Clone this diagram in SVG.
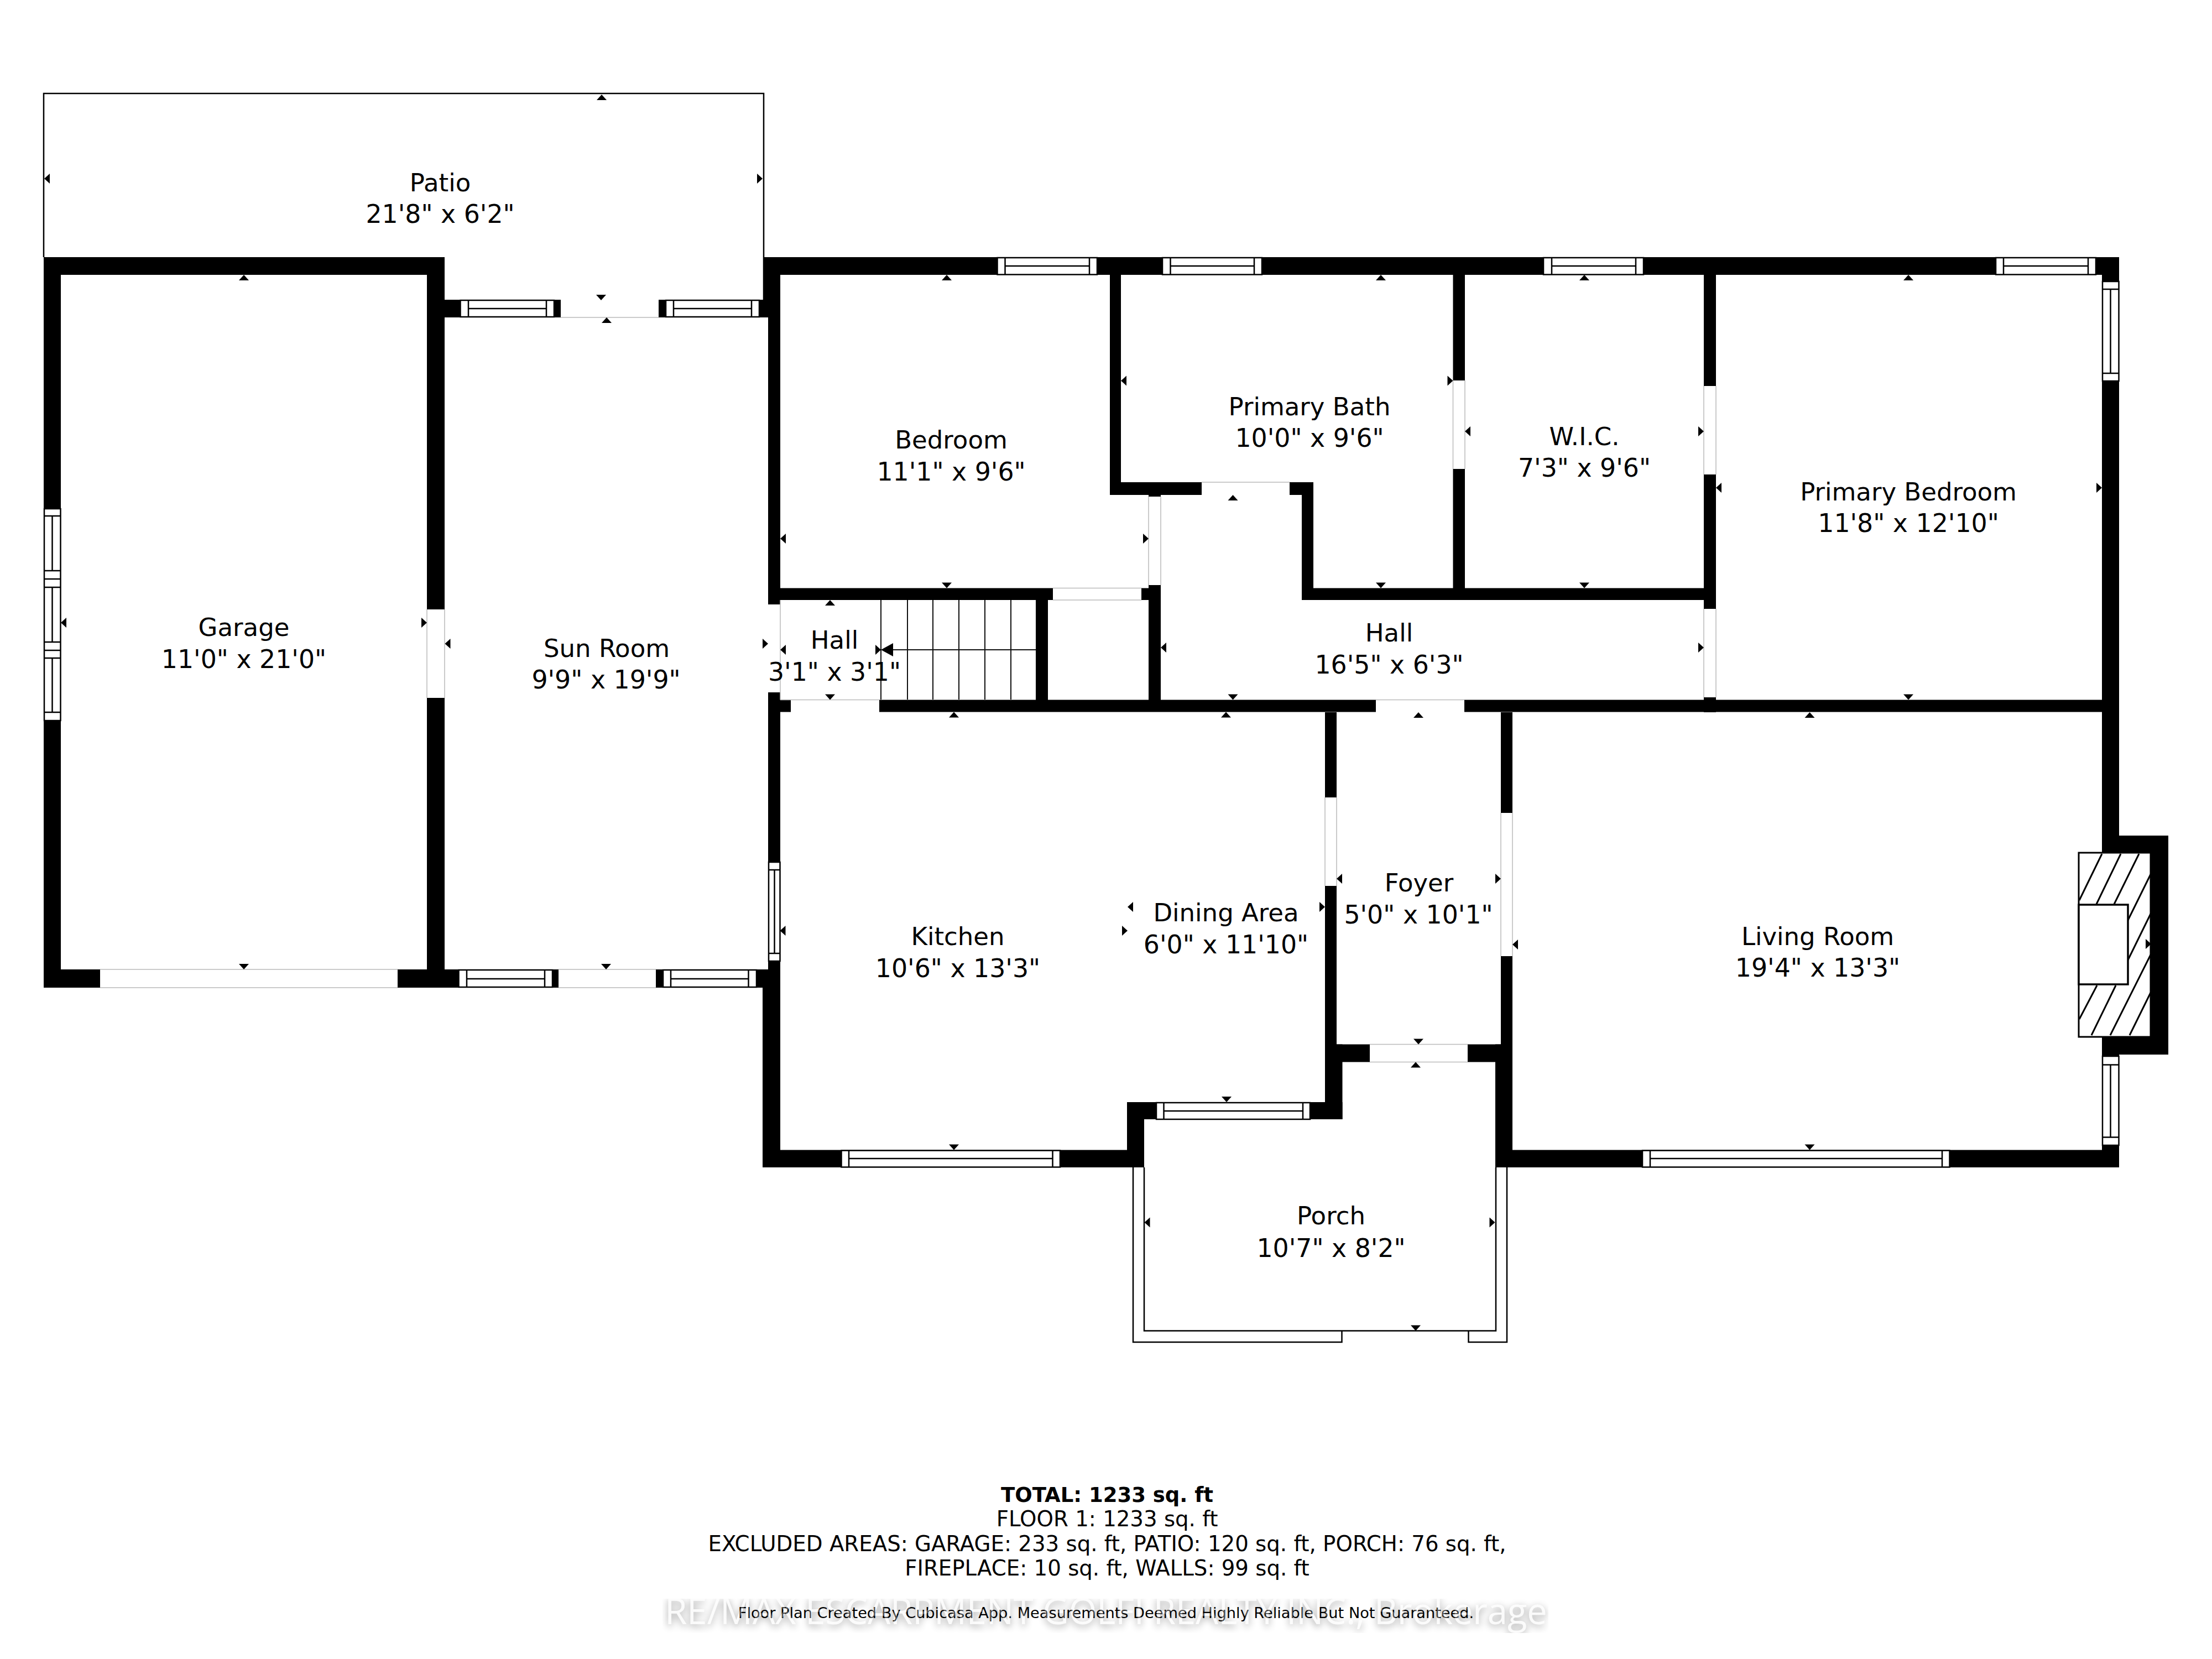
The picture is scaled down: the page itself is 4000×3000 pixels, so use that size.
<svg xmlns="http://www.w3.org/2000/svg" width="4000" height="3000" viewBox="0 0 4000 3000">
<style>
.w{fill:#000}
.d{fill:#fff}
.dl{fill:none;stroke:#bbb;stroke-width:1.5}
.win{fill:#fff;stroke:#000;stroke-width:2.5}
.l{fill:none;stroke:#000;stroke-width:2.5;stroke-linecap:butt}
.o{fill:none;stroke:#000;stroke-width:2.5}
.s{stroke:#111;stroke-width:2;fill:none}
.h{stroke:#000;stroke-width:3;fill:none}
text{font-family:"DejaVu Sans",Verdana,sans-serif;fill:#000;text-anchor:middle}
.r{font-size:45px}
.r2{font-size:45.8px}
.f{font-size:38.7px}
.b{font-size:37px;font-weight:700}
.c{font-size:27.2px}
.wm{font-family:"Open Sans","Noto Sans",sans-serif;font-size:65px}
</style>
<defs>
<polygon id="tu" points="0,0 9,10 -9,10" fill="#000"/>
<polygon id="td" points="0,0 9,-10 -9,-10" fill="#000"/>
<polygon id="tl" points="0,0 10,-9 10,9" fill="#000"/>
<polygon id="tr" points="0,0 -10,-9 -10,9" fill="#000"/>
<filter id="blur" x="-5%" y="-50%" width="110%" height="200%"><feGaussianBlur stdDeviation="7"/></filter>
<clipPath id="wmclip"><rect x="1198" y="2891" width="1602" height="62"/></clipPath>
</defs>

<rect width="4000" height="3000" fill="#fff"/>

<g id="outlines">
<path class="o" d="M79,465V169H1381V542"/>
<path class="o" d="M2069,2111V2406.5H2705V2111M2049,2111V2427H2426.5V2406.5M2725,2111V2427H2655.5V2406.5"/>
</g>

<g id="walls">
<rect class="w" x="79" y="465" width="725" height="32"/>
<rect class="w" x="79" y="465" width="31" height="455"/>
<rect class="w" x="79" y="1303" width="31" height="483"/>
<rect class="w" x="772" y="465" width="32" height="637"/>
<rect class="w" x="772" y="1262" width="32" height="524"/>
<rect class="w" x="79" y="1753" width="102" height="33"/>
<rect class="w" x="719" y="1753" width="291" height="33"/>
<rect class="w" x="1186" y="1753" width="203" height="33"/>
<rect class="w" x="804" y="542" width="210" height="32"/>
<rect class="w" x="1191" y="542" width="198" height="32"/>
<rect class="w" x="1381" y="465" width="30" height="109"/>
<rect class="w" x="1389" y="465" width="22" height="628"/>
<rect class="w" x="1389" y="1252" width="22" height="307"/>
<rect class="w" x="1389" y="1265.5" width="41" height="22"/>
<rect class="w" x="1389" y="1738" width="22" height="373"/>
<rect class="w" x="1379" y="1753" width="32" height="358"/>
<rect class="w" x="1379" y="2079.5" width="690" height="31.5"/>
<rect class="w" x="2038" y="1993" width="31" height="118"/>
<rect class="w" x="2038" y="1993" width="389.500" height="31"/>
<rect class="w" x="2396" y="1288" width="21" height="154"/>
<rect class="w" x="2396" y="1602" width="21" height="400"/>
<rect class="w" x="2396" y="1888.500" width="81" height="32"/>
<rect class="w" x="2654" y="1888.500" width="81" height="32"/>
<rect class="w" x="2396" y="1888.500" width="31.500" height="135.500"/>
<rect class="w" x="2714" y="1288" width="21" height="182"/>
<rect class="w" x="2714" y="1729" width="21" height="381.500"/>
<rect class="w" x="2704" y="1888.500" width="31" height="222"/>
<rect class="w" x="2704" y="2079.500" width="1128" height="31.500"/>
<rect class="w" x="1381" y="465" width="2451" height="32"/>
<rect class="w" x="3801" y="465" width="31" height="44"/>
<rect class="w" x="3801" y="689" width="31" height="854"/>
<rect class="w" x="3801" y="1511" width="120" height="32"/>
<rect class="w" x="3889" y="1511" width="32" height="396"/>
<rect class="w" x="3801" y="1874" width="120" height="33"/>
<rect class="w" x="3801" y="1874" width="31" height="36"/>
<rect class="w" x="3801" y="2071" width="31" height="40"/>
<rect class="w" x="1590" y="1265.500" width="898" height="22"/>
<rect class="w" x="2648" y="1265.500" width="1184" height="22"/>
<rect class="w" x="2007" y="497" width="20" height="398"/>
<rect class="w" x="2007" y="872" width="166" height="23"/>
<rect class="w" x="2332" y="872" width="43" height="23"/>
<rect class="w" x="2354" y="872" width="21" height="213"/>
<rect class="w" x="2354" y="1063.500" width="749" height="21.500"/>
<rect class="w" x="2627.500" y="497" width="21.500" height="191"/>
<rect class="w" x="2627.500" y="848" width="21.500" height="216"/>
<rect class="w" x="3081" y="497" width="22" height="201"/>
<rect class="w" x="3081" y="858" width="22" height="243"/>
<rect class="w" x="3081" y="1261" width="22" height="27"/>
<rect class="w" x="2077" y="895" width="22" height="3"/>
<rect class="w" x="2077" y="1058" width="22" height="229"/>
<rect class="w" x="2064" y="1063.500" width="13" height="21.500"/>
<rect class="w" x="1389" y="1063.500" width="515" height="21.500"/>
<rect class="w" x="1873" y="1085" width="22" height="181"/>
</g>

<g id="doors">
<rect class="d" x="772" y="1102" width="32" height="160"/>
<rect class="d" x="1014" y="542" width="177" height="32"/>
<rect class="d" x="181" y="1753" width="538" height="33"/>
<rect class="d" x="1010" y="1753" width="176" height="33"/>
<rect class="d" x="1389" y="1093" width="22" height="159"/>
<rect class="d" x="1430" y="1265.500" width="160" height="22"/>
<rect class="d" x="1904" y="1063.500" width="160" height="21.500"/>
<rect class="d" x="2077" y="898" width="22" height="160"/>
<rect class="d" x="2173" y="872" width="159" height="23"/>
<rect class="d" x="2627.500" y="688" width="21.500" height="160"/>
<rect class="d" x="3081" y="698" width="22" height="160"/>
<rect class="d" x="3081" y="1101" width="22" height="160"/>
<rect class="d" x="2488" y="1265.500" width="160" height="22"/>
<rect class="d" x="2396" y="1442" width="21" height="160"/>
<rect class="d" x="2714" y="1470" width="21" height="259"/>
<rect class="d" x="2477" y="1888.500" width="177" height="32"/>
<path class="dl" d="M181,1753H719M181,1786H719M1014,574H1191M1010,1753H1186M1010,1786H1186M772,1102V1262M804,1102V1262M1411,1085V1265.500M1411,1265.500H1590M1904,1063.500H2064M1904,1085H2064M2077,898V1058M2099,898V1058M2173,872H2332M2627.500,688V848M2649,688V848M3081,698V858M3103,698V858M3081,1101V1261M3103,1101V1261M2488,1265.500H2648M2396,1442V1602M2417,1442V1602M2714,1470V1729M2735,1470V1729M2477,1888.500H2654M2477,1920.500H2654"/>
</g>

<g id="windows">
<rect class="win" x="832.500" y="543" width="169.500" height="30"/><path class="l" d="M847,543V573M988,543V573M847,558H988"/>
<rect class="win" x="1204" y="543" width="169" height="30"/><path class="l" d="M1218,543V573M1359,543V573M1218,558H1359"/>
<rect class="win" x="829.500" y="1754" width="169.500" height="31"/><path class="l" d="M844,1754V1785M985,1754V1785M844,1770H985"/>
<rect class="win" x="1199" y="1754" width="169" height="31"/><path class="l" d="M1213,1754V1785M1353.500,1754V1785M1213,1770H1353.500"/>
<rect class="win" x="1803.500" y="466" width="180.500" height="30.500"/><path class="l" d="M1817.500,466V496.500M1970,466V496.500M1817.500,481H1970"/>
<rect class="win" x="2102" y="466" width="180" height="30.500"/><path class="l" d="M2116.500,466V496.500M2268,466V496.500M2116.500,481H2268"/>
<rect class="win" x="2791" y="466" width="181" height="30.500"/><path class="l" d="M2806,466V496.500M2958,466V496.500M2806,481H2958"/>
<rect class="win" x="3609" y="466" width="181" height="30.500"/><path class="l" d="M3623,466V496.500M3776,466V496.500M3623,481H3776"/>
<rect class="win" x="1521.500" y="2080.500" width="395.500" height="30"/><path class="l" d="M1535,2080.500V2110.500M1903.500,2080.500V2110.500M1535,2095H1903.500"/>
<rect class="win" x="2091" y="1994" width="278" height="30"/><path class="l" d="M2104.500,1994V2024M2356,1994V2024M2104.500,2009H2356"/>
<rect class="win" x="2970" y="2080.500" width="555.500" height="30"/><path class="l" d="M2984,2080.500V2110.500M3512,2080.500V2110.500M2984,2095H3512"/>
<rect class="win" x="3802" y="509" width="29.500" height="180"/><path class="l" d="M3802,523H3831.500M3802,675H3831.500M3816.500,523V675"/>
<rect class="win" x="3802" y="1910" width="29.500" height="161"/><path class="l" d="M3802,1925.500H3831.500M3802,2056.500H3831.500M3816.500,1925.500V2056.500"/>
<rect class="win" x="1390" y="1559" width="20.500" height="179"/><path class="l" d="M1390,1573H1410.500M1390,1724H1410.500M1400.500,1573V1724"/>
<rect class="win" x="80" y="920" width="29.500" height="383"/><path class="l" d="M80,933H109.500M80,1032H109.500M80,1047H109.500M80,1062H109.500M80,1161H109.500M80,1176H109.500M80,1190H109.500M80,1288H109.500M94.500,933V1032M94.500,1062V1161M94.500,1190V1288"/>
</g>

<g id="fireplace">
<rect x="3759" y="1542" width="130" height="333" fill="#fff" stroke="#000" stroke-width="3"/>
<path class="h" d="M3760,1628L3801,1544M3791,1635L3835,1544M3823,1635L3868,1544M3848,1664L3889,1581M3848,1736L3889,1652.500M3760,1843L3792,1782M3782,1872L3826,1782M3816,1872L3889,1726.500M3851,1872L3889,1795"/>
<rect x="3759" y="1636" width="89" height="144" fill="#fff" stroke="#000" stroke-width="3.500"/>
</g>

<g id="stairs">
<path class="s" d="M1593,1085V1265M1641,1085V1265M1687,1085V1265M1734,1085V1265M1781,1085V1265M1828,1085V1265M1610,1175H1873"/>
<polygon points="1593,1175 1615,1163 1615,1187" fill="#000"/>
</g>

<g id="dimension-marks">
<use href="#tu" x="1088" y="171"/><use href="#tl" x="80" y="323"/><use href="#tr" x="1379" y="323"/><use href="#td" x="1087" y="543"/>
<use href="#tu" x="441" y="497"/><use href="#tl" x="110" y="1126"/><use href="#tr" x="772" y="1126"/><use href="#td" x="441" y="1753"/>
<use href="#tu" x="1097" y="574"/><use href="#tl" x="804.500" y="1164"/><use href="#tr" x="1389" y="1164"/><use href="#td" x="1096" y="1753"/>
<use href="#tu" x="1712" y="497"/><use href="#tl" x="1411" y="974"/><use href="#tr" x="2077" y="974"/><use href="#td" x="1712" y="1063.500"/>
<use href="#tu" x="1501" y="1085"/><use href="#tl" x="1411" y="1175"/><use href="#tr" x="1593" y="1175"/><use href="#td" x="1501" y="1265.500"/>
<use href="#tu" x="2497" y="497"/><use href="#tl" x="2027" y="688.500"/><use href="#tr" x="2627.500" y="688.500"/><use href="#td" x="2497" y="1063.500"/>
<use href="#tu" x="2229.500" y="895"/><use href="#tl" x="2099" y="1171"/><use href="#tr" x="3081" y="1171"/><use href="#td" x="2229.500" y="1265.500"/>
<use href="#tu" x="2865" y="497"/><use href="#tl" x="2649" y="780"/><use href="#tr" x="3081" y="780"/><use href="#td" x="2865" y="1063.500"/>
<use href="#tu" x="3451" y="497"/><use href="#tl" x="3103" y="882"/><use href="#tr" x="3801" y="882"/><use href="#td" x="3451" y="1265.500"/>
<use href="#tu" x="1725" y="1287.500"/><use href="#tl" x="1410.500" y="1683"/><use href="#tr" x="2039" y="1683"/><use href="#td" x="1725" y="2079.500"/>
<use href="#tu" x="2217" y="1287.500"/><use href="#tl" x="2039" y="1640"/><use href="#tr" x="2396" y="1640"/><use href="#td" x="2218" y="1993"/>
<use href="#tu" x="2565" y="1288"/><use href="#tl" x="2417" y="1589"/><use href="#tr" x="2714" y="1589"/><use href="#td" x="2565" y="1888.500"/>
<use href="#tu" x="3272.500" y="1288"/><use href="#tl" x="2735" y="1708"/><use href="#tr" x="3890" y="1707"/><use href="#td" x="3272.500" y="2079.500"/>
<use href="#tu" x="2560" y="1920.500"/><use href="#tl" x="2069.500" y="2210.500"/><use href="#tr" x="2703.500" y="2210.500"/><use href="#td" x="2560" y="2406.500"/>
</g>

<g id="room-patio"><text class="r" x="796" y="346">Patio</text><text class="r2" x="796" y="403">21'8" x 6'2"</text></g>
<g id="room-garage"><text class="r" x="441" y="1150">Garage</text><text class="r2" x="441" y="1208">11'0" x 21'0"</text></g>
<g id="room-sun-room"><text class="r" x="1097" y="1188">Sun Room</text><text class="r2" x="1096" y="1245">9'9" x 19'9"</text></g>
<g id="room-bedroom"><text class="r" x="1720" y="811">Bedroom</text><text class="r2" x="1720" y="869">11'1" x 9'6"</text></g>
<g id="room-hall-small"><text class="r" x="1509" y="1173">Hall</text><text class="r2" x="1509" y="1231">3'1" x 3'1"</text></g>
<g id="room-primary-bath"><text class="r" x="2368" y="751">Primary Bath</text><text class="r2" x="2368" y="808">10'0" x 9'6"</text></g>
<g id="room-wic"><text class="r" x="2865" y="805">W.I.C.</text><text class="r2" x="2865" y="862">7'3" x 9'6"</text></g>
<g id="room-primary-bedroom"><text class="r" x="3451" y="905">Primary Bedroom</text><text class="r2" x="3451" y="962">11'8" x 12'10"</text></g>
<g id="room-hall"><text class="r" x="2512" y="1160">Hall</text><text class="r2" x="2512" y="1218">16'5" x 6'3"</text></g>
<g id="room-kitchen"><text class="r" x="1732" y="1709">Kitchen</text><text class="r2" x="1732" y="1767">10'6" x 13'3"</text></g>
<g id="room-dining"><text class="r" x="2217" y="1666">Dining Area</text><text class="r2" x="2217" y="1724">6'0" x 11'10"</text></g>
<g id="room-foyer"><text class="r" x="2566" y="1612">Foyer</text><text class="r2" x="2565" y="1670">5'0" x 10'1"</text></g>
<g id="room-living"><text class="r" x="3287" y="1709">Living Room</text><text class="r2" x="3287" y="1766">19'4" x 13'3"</text></g>
<g id="room-porch"><text class="r" x="2407" y="2214">Porch</text><text class="r2" x="2407" y="2273">10'7" x 8'2"</text></g>

<g id="summary">
<text class="b" x="2002" y="2716">TOTAL: 1233 sq. ft</text>
<text class="f" x="2002" y="2760">FLOOR 1: 1233 sq. ft</text>
<text class="f" x="2002" y="2805">EXCLUDED AREAS: GARAGE: 233 sq. ft, PATIO: 120 sq. ft, PORCH: 76 sq. ft,</text>
<text class="f" x="2002" y="2849">FIREPLACE: 10 sq. ft, WALLS: 99 sq. ft</text>
</g>

<g id="watermark-shadow">
<g clip-path="url(#wmclip)"><text class="wm" x="2000" y="2941" filter="url(#blur)" style="fill:#000;opacity:.4">RE/MAX ESCARPMENT GOLFI REALTY INC., Brokerage</text></g>
<text class="wm" x="2000" y="2937" style="fill:#fff;opacity:.85">RE/MAX ESCARPMENT GOLFI REALTY INC., Brokerage</text>
</g>
<g id="disclaimer"><text class="c" x="2000" y="2926">Floor Plan Created By Cubicasa App. Measurements Deemed Highly Reliable But Not Guaranteed.</text></g>
<g id="watermark-veil" aria-hidden="true"><text class="wm" x="2000" y="2937" style="fill:#fff;opacity:.3">RE/MAX ESCARPMENT GOLFI REALTY INC., Brokerage</text></g>
</svg>
